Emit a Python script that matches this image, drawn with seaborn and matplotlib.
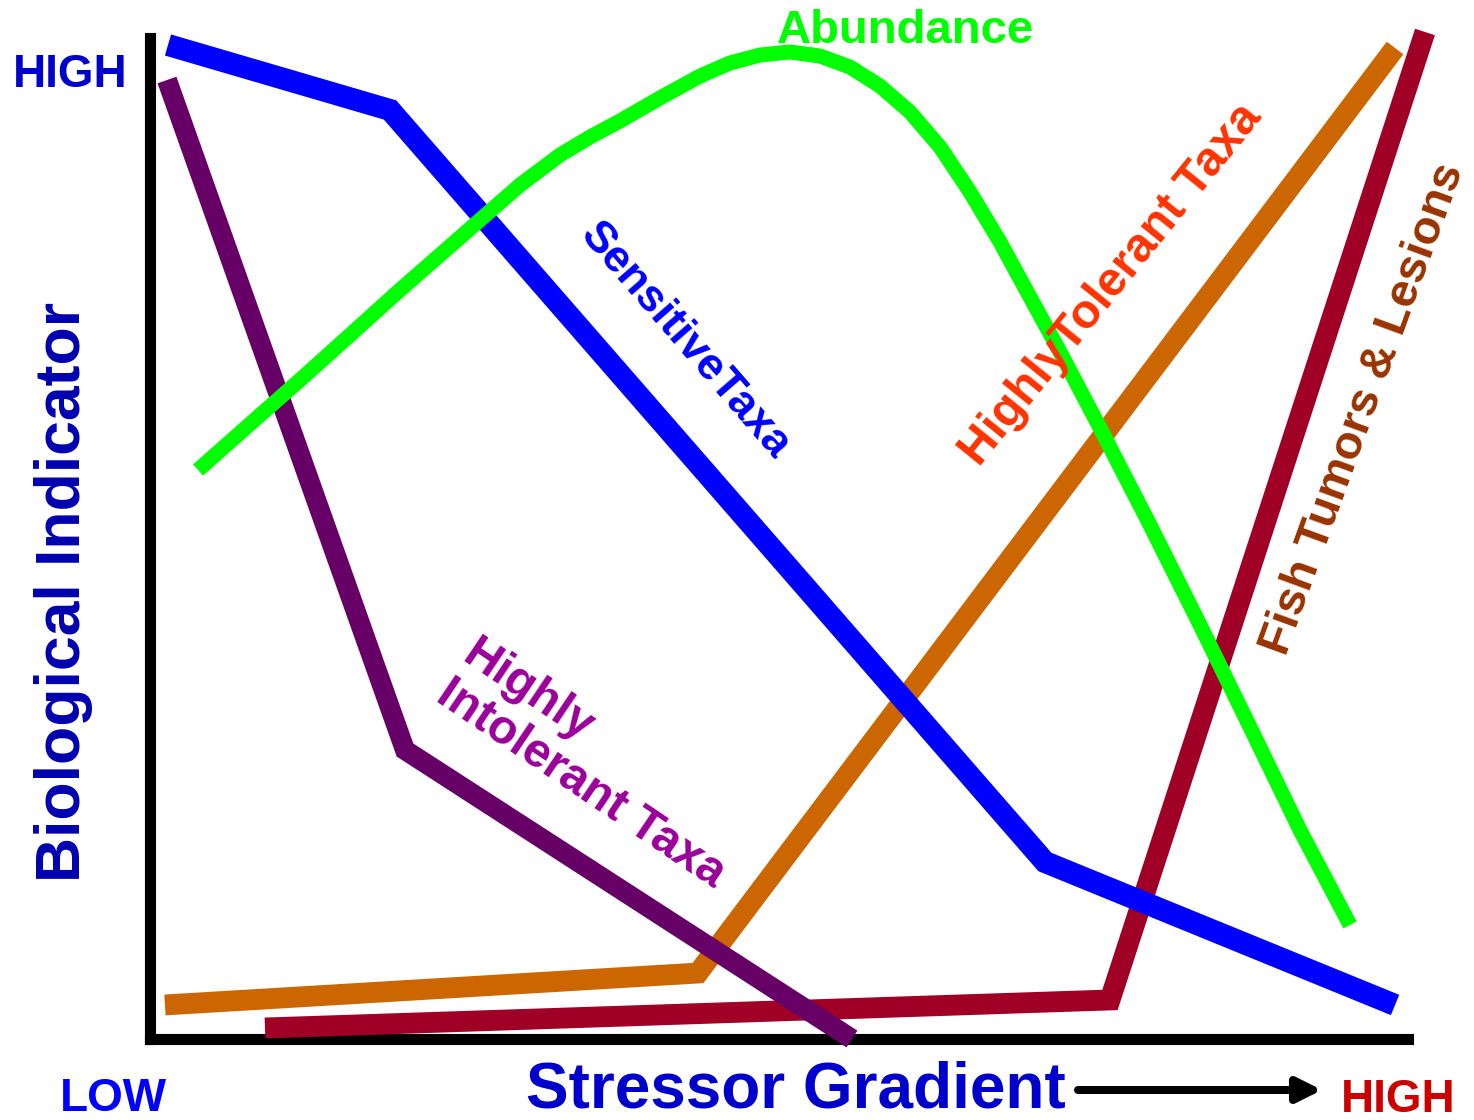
import matplotlib
matplotlib.use("Agg")
import matplotlib.pyplot as plt
import seaborn as sns
import pandas as pd

# ---------------- data (stressor gradient 0-100, indicator 0-100) ----------------
sensitive_x = [1.43, 19.08, 71.14, 98.97]
sensitive_y = [99.30, 92.81, 17.68, 3.40]

intolerant_x = [1.35, 20.27, 55.80]
intolerant_y = [95.80, 28.87, 0.0]

tolerant_x = [1.19, 43.56, 98.97]
tolerant_y = [3.40, 6.59, 99.00]

tumors_x = [9.14, 76.31, 101.35]
tumors_y = [1.10, 3.90, 100.6]

abundance_x = [3.82, 7.95, 11.92, 15.90, 19.87, 23.05, 26.23, 29.41, 32.59, 34.98,
               37.36, 40.54, 43.72, 46.10, 48.49, 50.87, 53.26, 55.64, 58.03, 60.41,
               62.80, 65.18, 67.57, 69.95, 72.34, 75.52, 79.49, 83.47, 87.44, 91.41,
               95.39]
abundance_y = [56.84, 61.44, 65.83, 70.33, 74.83, 78.32, 81.82, 85.31, 88.31, 90.11,
               91.71, 94.01, 96.20, 97.50, 98.30, 98.60, 98.20, 97.10, 95.20, 92.61,
               89.11, 84.62, 79.62, 74.13, 68.63, 61.04, 51.35, 41.36, 31.17, 20.88,
               11.39]

# ---------------- figure ----------------
W, H = 1474, 1120
sns.set_style("white")
plt.rcParams["font.family"] = ["Liberation Sans", "DejaVu Sans"]
plt.rcParams["font.weight"] = "bold"

fig = plt.figure(figsize=(W / 100, H / 100), dpi=100)
left, right, top, bottom = 150, 1408, 38, 1039
ax = fig.add_axes([left / W, 1 - bottom / H, (right - left) / W, (bottom - top) / H])
ax.set_xlim(0, 100)
ax.set_ylim(0, 100)
ax.set_xticks([])
ax.set_yticks([])
for s in ["top", "right"]:
    ax.spines[s].set_visible(False)
for s in ["left", "bottom"]:
    ax.spines[s].set_linewidth(8)
    ax.spines[s].set_color("black")
    ax.spines[s].set_capstyle("projecting")
    ax.spines[s].set_zorder(1)


def draw(xs, ys, color, lw, z, join="miter"):
    df = pd.DataFrame({"stress": xs, "indicator": ys})
    sns.lineplot(data=df, x="stress", y="indicator", sort=False, estimator=None,
                 color=color, linewidth=lw, ax=ax)
    ln = ax.lines[-1]
    ln.set_solid_capstyle("butt")
    ln.set_solid_joinstyle(join)
    ln.set_clip_on(False)
    ln.set_zorder(z)


draw(tolerant_x, tolerant_y, "#cc6600", 15, 3)
draw(tumors_x, tumors_y, "#a00026", 15, 4)
draw(sensitive_x, sensitive_y, "#0000ff", 15.8, 5)
draw(intolerant_x, intolerant_y, "#660066", 14.4, 6)
draw(abundance_x, abundance_y, "#00ff00", 10.8, 7, join="round")
ax.set_xlabel("")
ax.set_ylabel("")


def P(x, y):
    return (x / W, 1 - y / H)


def T(x, y, s, color, size, rot=0, ha="center", va="baseline", **kw):
    fig.text(*P(x, y), s, color=color, fontsize=size, fontweight="bold",
             rotation=rot, rotation_mode="anchor", ha=ha, va=va, **kw)


# corner labels
T(70, 87, "HIGH", "#0000cc", 33)
T(113, 1111, "LOW", "#0000ff", 33)
T(1398, 1112, "HIGH", "#cc0000", 33)

# axis titles
T(796, 1108, "Stressor Gradient", "#0000cc", 46)
T(80, 592, "Biological Indicator", "#0000b0", 45, rot=90)

# arrow
fig.add_artist(matplotlib.patches.FancyArrowPatch(
    P(1078, 1090), P(1322, 1090), transform=fig.transFigure,
    arrowstyle="-|>,head_length=1.2,head_width=0.6", mutation_scale=12,
    color="black", lw=5.8, shrinkA=0, shrinkB=0))

# series labels
T(905, 43, "Abundance", "#00ff00", 34)
T(685, 341, "SensitiveTaxa", "#0000ff", 32.5, rot=-49, va="center")
T(1111, 285, "HighlyTolerant Taxa", "#ff3300", 34.5, rot=51, va="center")
T(1364, 409, "Fish Tumors & Lesions", "#993300", 34, rot=70, va="center")
fig.text(*P(594, 764), "Highly\nIntolerant Taxa", color="#990099", fontsize=34.5,
         fontweight="bold", rotation=-34, rotation_mode="anchor",
         ha="center", va="center", multialignment="left", linespacing=1.08)

fig.savefig("out.png", dpi=100)
